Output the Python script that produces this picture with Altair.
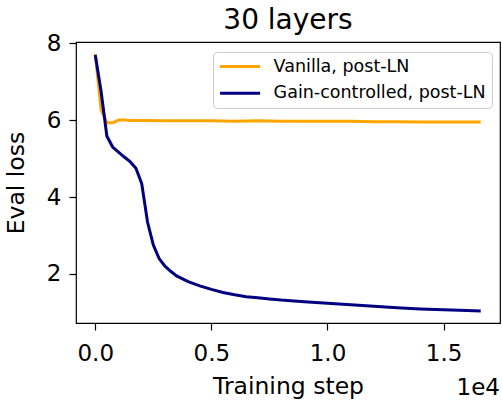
import altair as alt
import pandas as pd

series_names = ["Vanilla, post-LN", "Gain-controlled, post-LN"]
colors = ["#FFA500", "#000080"]

vanilla_steps = [0, 250, 500, 750, 1000, 1250, 1500, 2000, 3000, 4000, 5000, 6000, 7000,
                 8000, 9000, 10000, 11000, 12000, 13000, 14000, 15000, 16000, 16600]
vanilla_loss = [7.72, 6.27, 5.93, 5.93, 6.00, 6.00, 5.99, 5.99, 5.98, 5.98, 5.98, 5.97, 5.98,
                5.97, 5.97, 5.97, 5.97, 5.96, 5.96, 5.95, 5.95, 5.95, 5.95]

gain_steps = [0, 250, 500, 750, 1000, 1250, 1500, 1750, 2000, 2250, 2500, 2750, 3000, 3250,
              3500, 4000, 4500, 5000, 5500, 6000, 6500, 7000, 7500, 8000, 9000, 10000, 11000,
              12000, 13000, 14000, 15000, 16000, 16600]
gain_loss = [7.69, 6.75, 5.58, 5.30, 5.17, 5.04, 4.92, 4.75, 4.35, 3.35, 2.75, 2.40, 2.20, 2.07,
             1.95, 1.80, 1.69, 1.60, 1.52, 1.46, 1.41, 1.38, 1.35, 1.32, 1.28, 1.24, 1.20,
             1.16, 1.12, 1.09, 1.07, 1.05, 1.04]

x_ticks = [0, 5000, 10000, 15000]
y_ticks = [2, 4, 6, 8]

df = pd.concat([
    pd.DataFrame({"step": vanilla_steps, "loss": vanilla_loss, "series": series_names[0], "order": 0}),
    pd.DataFrame({"step": gain_steps, "loss": gain_loss, "series": series_names[1], "order": 1}),
])

FONT = "DejaVu Sans"

lines = alt.Chart(df).mark_line(strokeWidth=3, clip=True).encode(
    x=alt.X("step:Q", scale=alt.Scale(domain=[-830, 17430], nice=False, zero=False),
            axis=alt.Axis(values=x_ticks, labelExpr="format(datum.value/10000, '.1f')",
                          title="Training step")),
    y=alt.Y("loss:Q", scale=alt.Scale(domain=[0.725, 8.03], nice=False, zero=False),
            axis=alt.Axis(values=y_ticks, format="d", title="Eval loss")),
    color=alt.Color("series:N",
                    scale=alt.Scale(domain=series_names, range=colors),
                    sort=series_names,
                    legend=alt.Legend(title=None)),
    detail="order:O",
)

offset_text = alt.Chart(pd.DataFrame({"t": ["1e4"]})).mark_text(
    align="right", baseline="alphabetic", fontSize=23, font=FONT, color="black"
).encode(
    x=alt.value(424), y=alt.value(353), text="t:N"
)

chart = alt.layer(lines, offset_text).properties(
    width=424, height=281,
    title=alt.TitleParams("30 layers", fontSize=28, font=FONT, fontWeight="normal",
                          anchor="middle", offset=-3, color="black"),
    autosize=alt.AutoSizeParams(type="none"),
    padding={"left": 76, "top": 42, "right": 2, "bottom": 77},
).configure_view(
    stroke="black", strokeWidth=1.2
).configure_axis(
    domain=False, grid=False,
    tickColor="black", tickWidth=1.2, tickSize=7,
    labelFont=FONT, labelFontSize=23, labelColor="black",
    titleFont=FONT, titleFontSize=23.5, titleFontWeight="normal", titleColor="black",
).configure_axisX(
    labelPadding=12, titlePadding=9,
).configure_axisY(
    labelPadding=8, titlePadding=18,
).configure_legend(
    orient="none", legendX=137, legendY=10,
    symbolType="stroke", symbolSize=1600, symbolStrokeWidth=3,
    clipHeight=18, rowPadding=8.7, labelOffset=12, labelLimit=400,
    labelFont=FONT, labelFontSize=17.5, labelColor="black",
    padding=5.6, strokeColor="#cccccc", fillColor="rgba(255,255,255,0.8)", cornerRadius=4,
)

chart.save("out.html", embed_options={"renderer": "svg", "actions": False})
